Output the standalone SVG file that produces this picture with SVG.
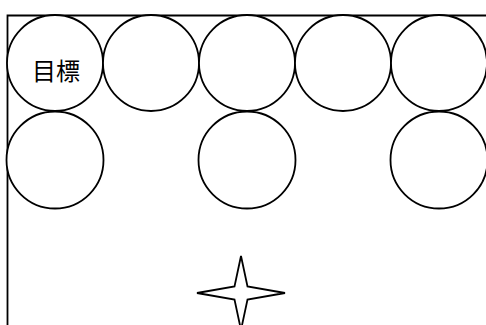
<svg xmlns="http://www.w3.org/2000/svg" width="486" height="325" viewBox="0 0 486 325">
<style>
.c{fill:#fff;stroke:#000;stroke-width:1.8}
.b{fill:none;stroke:#000;stroke-width:1.8}
.t{font-family:"Noto Sans CJK JP","Noto Sans CJK SC",sans-serif;font-size:24px;fill:#000;text-anchor:middle}
</style>
<rect width="486" height="325" fill="#fff"/>
<path class="b" d="M7.5 325V15.5H486"/>
<g id="n1"><circle class="c" cx="55" cy="63" r="48"/><text class="t" x="56" y="80">目標</text></g>
<g id="n2"><circle class="c" cx="151" cy="63" r="48"/></g>
<g id="n3"><circle class="c" cx="247" cy="63" r="48"/></g>
<g id="n4"><circle class="c" cx="343" cy="63" r="48"/></g>
<g id="n5"><circle class="c" cx="439" cy="63" r="48"/></g>
<g id="n6"><circle class="c" cx="55" cy="160" r="48.5"/></g>
<g id="n7"><circle class="c" cx="247" cy="160" r="48.5"/></g>
<g id="n8"><circle class="c" cx="439" cy="160" r="48.5"/></g>
<g id="star"><path class="c" d="M241 256L247.5 286.5L285 293L247.5 299.5L241 330L234.5 299.5L197 293L234.5 286.5Z"/></g>
<g id="connectors"/>
</svg>
